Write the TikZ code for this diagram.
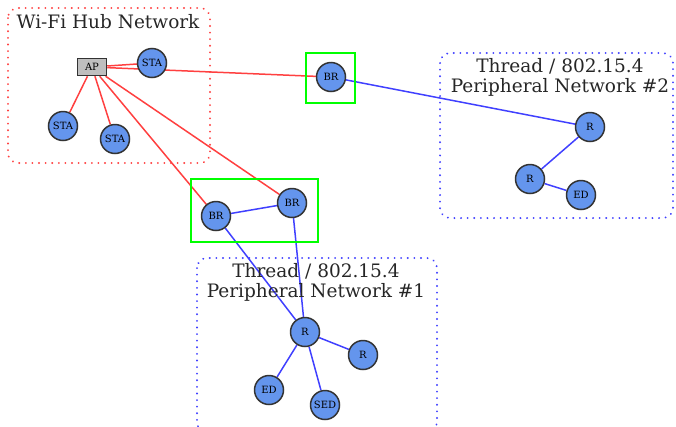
\documentclass[tikz,border=0pt]{standalone}
\usepackage{fontspec}
\setmainfont{DejaVu Serif}
\usetikzlibrary{backgrounds}
\definecolor{nodeblue}{RGB}{100,149,237}
\definecolor{linkred}{RGB}{255,64,64}
\definecolor{linkblue}{RGB}{64,64,255}
\tikzset{
  dev/.style={circle,draw=black!80,line width=1.5pt,fill=nodeblue,minimum size=29pt,inner sep=0pt,font=\fontsize{10}{11}\selectfont},
  apbox/.style={rectangle,draw=black!80,line width=1.5pt,fill=black!25,minimum width=29pt,minimum height=17pt,inner sep=0pt,font=\fontsize{10}{11}\selectfont},
  wifi/.style={draw=linkred,line width=1.5pt},
  thread/.style={draw=linkblue,line width=1.5pt},
  cluster/.style={rounded corners=10pt,line width=2pt,dash pattern=on 0.1pt off 6.5pt,line cap=round},
  brbox/.style={draw=green,line width=2.5pt},
  title/.style={font=\fontsize{18.5}{20}\selectfont,text=black!85,align=center}
}
\begin{document}
\begin{tikzpicture}[x=1pt,y=-1pt]
\useasboundingbox (0,0) rectangle (676,426);
\clip (0,0) rectangle (676,426);
% clusters
\draw[cluster,draw=linkred] (8,8) rectangle (210,163);
\node[title] (wifititle) at (108,22) {Wi-Fi Hub Network};
\draw[cluster,draw=linkblue] (197,258) rectangle (437,432);
\node[title] (thr1title) at (316,282) {Thread / 802.15.4\\Peripheral Network \#1};
\draw[cluster,draw=linkblue] (440,53) rectangle (673,218);
\node[title] (thr2title) at (560,77) {Thread / 802.15.4\\Peripheral Network \#2};
% border router boxes
\draw[brbox] (306,53) rectangle (355,103);
\draw[brbox] (191,179) rectangle (318,242);
% Wi-Fi hub
\node[apbox] (ap) at (92,67) {AP};
\node[dev] (sta1) at (152,63) {STA};
\node[dev] (sta2) at (63,126) {STA};
\node[dev] (sta3) at (115,139) {STA};
% border routers
\node[dev] (br0) at (331,77) {BR};
\node[dev] (br1) at (216,216) {BR};
\node[dev] (br2) at (292,203) {BR};
% network #1
\node[dev] (r1) at (305,332) {R};
\node[dev] (r1b) at (363,355) {R};
\node[dev] (ed1) at (269,390) {ED};
\node[dev] (sed1) at (325,405) {SED};
% network #2
\node[dev] (r2) at (590,127) {R};
\node[dev] (r2b) at (530,179) {R};
\node[dev] (ed2) at (581,195) {ED};
% links
\begin{scope}[on background layer]
\draw[wifi] (ap) -- (sta1);
\draw[wifi] (ap) -- (sta2);
\draw[wifi] (ap) -- (sta3);
\draw[wifi] (ap) -- (br0);
\draw[wifi] (ap) -- (br1);
\draw[wifi] (ap) -- (br2);
\draw[thread] (br0) -- (r2);
\draw[thread] (r2) -- (r2b);
\draw[thread] (r2b) -- (ed2);
\draw[thread] (br1) -- (br2);
\draw[thread] (br1) -- (r1);
\draw[thread] (br2) -- (r1);
\draw[thread] (r1) -- (r1b);
\draw[thread] (r1) -- (ed1);
\draw[thread] (r1) -- (sed1);
\end{scope}
\end{tikzpicture}
\end{document}
